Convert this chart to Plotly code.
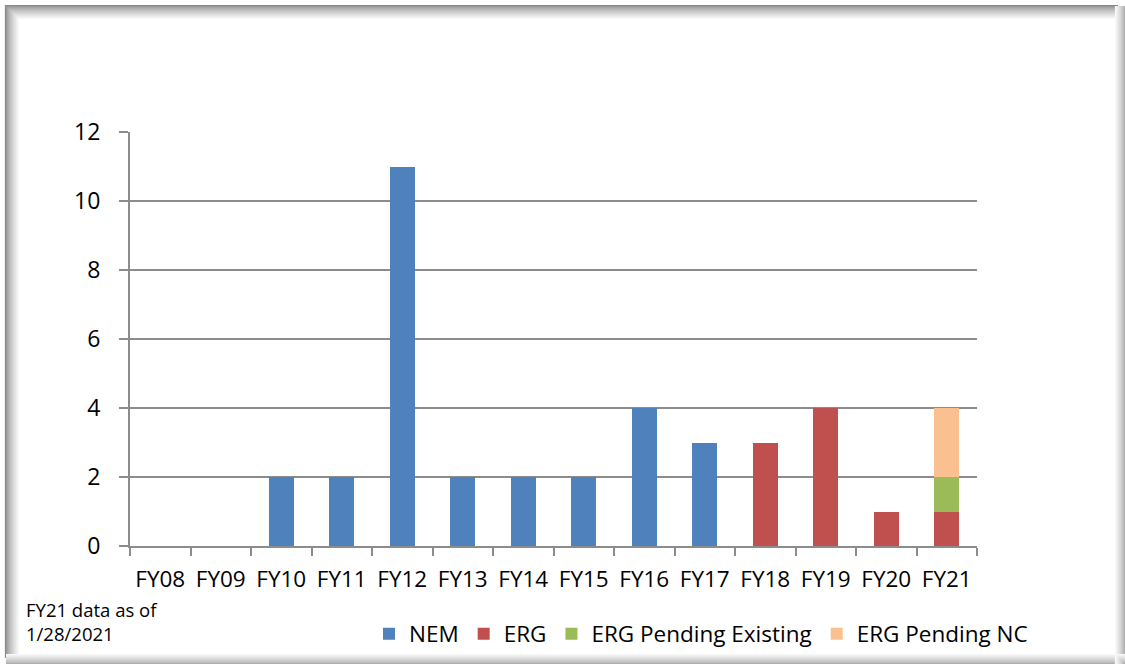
import plotly.graph_objects as go

categories = ["FY08", "FY09", "FY10", "FY11", "FY12", "FY13", "FY14", "FY15", "FY16", "FY17", "FY18", "FY19", "FY20", "FY21"]
nem = [0, 0, 2, 2, 11, 2, 2, 2, 4, 3, 0, 0, 0, 0]
erg = [0, 0, 0, 0, 0, 0, 0, 0, 0, 0, 3, 4, 1, 1]
erg_pending_existing = [0, 0, 0, 0, 0, 0, 0, 0, 0, 0, 0, 0, 0, 1]
erg_pending_nc = [0, 0, 0, 0, 0, 0, 0, 0, 0, 0, 0, 0, 0, 2]
y_ticks = [0, 2, 4, 6, 8, 10, 12]
note_text = "FY21 data as of<br>1/28/2021"

W, H = 1125, 664
L, R, T, B = 130, 977, 132, 546

def px(x):
    return (x - L) / (R - L)

def py(y):
    return (B - y) / (B - T)

fig = go.Figure()
series = [("NEM", nem, "#4F81BD"), ("ERG", erg, "#C0504D"),
          ("ERG Pending Existing", erg_pending_existing, "#9BBB59"),
          ("ERG Pending NC", erg_pending_nc, "#FAC090")]
for name, vals, col in series:
    fig.add_trace(go.Bar(x=categories, y=vals, name=name, marker_color=col,
                         marker_line_width=0))

font_family = "Open Sans, Liberation Sans, sans-serif"
axis_col = "#8C8C8C"

shapes = []
# frame with soft shadow
n = 14
for i in range(n):
    t = i / n
    g = int(135 + (255 - 135) * (t ** 0.7))
    col = f"rgb({g},{g},{g})"
    shapes.append(dict(type="line", xref="paper", yref="paper",
                       x0=px(5 + i), x1=px(1118), y0=py(5.5 + i), y1=py(5.5 + i),
                       line=dict(color=col, width=1.2), layer="below"))
    shapes.append(dict(type="line", xref="paper", yref="paper",
                       x0=px(5.5 + i), x1=px(5.5 + i), y0=py(5 + i), y1=py(658),
                       line=dict(color=col, width=1.2), layer="below"))
for i in range(10):
    t = i / 10
    g = int(175 + (255 - 175) * (t ** 0.8))
    col = f"rgb({g},{g},{g})"
    shapes.append(dict(type="line", xref="paper", yref="paper",
                       x0=px(1124.5 - i), x1=px(1124.5 - i), y0=py(6), y1=py(664),
                       line=dict(color=col, width=1.2), layer="below"))
    shapes.append(dict(type="line", xref="paper", yref="paper",
                       x0=px(6), x1=px(1125), y0=py(663.5 - i), y1=py(663.5 - i),
                       line=dict(color=col, width=1.2), layer="below"))

fig.update_layout(
    width=W, height=H,
    margin=dict(l=L, r=W - R, t=T, b=H - B, autoexpand=False),
    paper_bgcolor="white", plot_bgcolor="white",
    barmode="stack", bargap=0.59,
    font=dict(family=font_family, size=23, color="#000000"),
    showlegend=True,
    legend=dict(orientation="h", x=px(369), y=py(634), xanchor="left", yanchor="middle",
                font=dict(size=22.5), itemwidth=30, traceorder="normal",
                bgcolor="rgba(0,0,0,0)"),
    xaxis=dict(type="category", showgrid=False, showline=True, linecolor=axis_col,
               linewidth=2, ticks="outside", tickson="boundaries", ticklen=8,
               tickcolor=axis_col, tickwidth=2, tickfont=dict(size=22.5), zeroline=False,
               tickangle=0, ticklabelstandoff=12),
    yaxis=dict(range=[0, 12], tickvals=y_ticks, showgrid=True, gridcolor=axis_col,
               gridwidth=2, showline=True, linecolor=axis_col, linewidth=2,
               ticks="outside", ticklen=9, tickcolor=axis_col, tickwidth=2,
               tickfont=dict(size=23), zeroline=False, ticklabelstandoff=14),
    shapes=shapes,
    annotations=[dict(text=note_text, xref="paper", yref="paper", x=px(24), y=py(595),
                      xanchor="left", yanchor="top", align="left", showarrow=False,
                      font=dict(size=18.5))],
)

fig.write_html("out.html", config={"displayModeBar": False},
               post_script="document.body.style.margin='0';")
